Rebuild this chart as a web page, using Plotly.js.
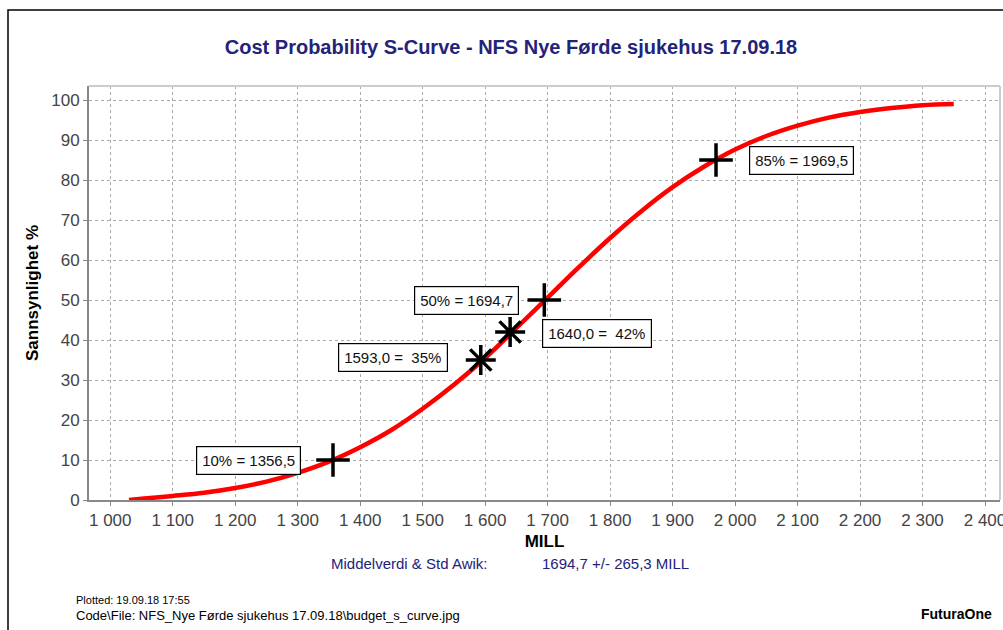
<!DOCTYPE html>
<html>
<head>
<meta charset="utf-8">
<script src="https://cdn.plot.ly/plotly-3.0.1.min.js"></script>
<style>
html,body{margin:0;padding:0;background:#fff;}
#chart{width:1003px;height:630px;}
</style>
</head>
<body>
<div id="chart"></div>
<script>
// S-curve (MILL vs cumulative probability %)
const curveX = [1030,1050,1100,1150,1200,1250,1300,1350,1400,1450,1500,1550,1600,1650,1700,1750,1800,1850,1900,1950,2000,2050,2100,2150,2200,2250,2300,2350];
const curveY = [0,0.3,1.0,1.8,3.0,4.6,6.8,9.6,13.2,17.5,22.8,28.8,35.5,43.0,50.6,58.2,65.5,72.2,78.2,83.3,87.6,91.0,93.6,95.6,97.0,98.0,98.7,99.0];

// Percentile markers (+)
const pctX = [1356.5, 1694.7, 1969.5];
const pctY = [10, 50, 85];
const pctLabels = ["10% = 1356,5", "50% = 1694,7", "85% = 1969,5"];

// Cost markers (*)
const costX = [1593.0, 1640.0];
const costY = [35, 42];
const costLabels = ["1593,0 =  35%", "1640,0 =  42%"];

const xTicks = [1000,1100,1200,1300,1400,1500,1600,1700,1800,1900,2000,2100,2200,2300,2400];
const yTicks = [0,10,20,30,40,50,60,70,80,90,100];

const FONT = 'Arial, Liberation Sans, sans-serif';

const traces = [
  {x: curveX, y: curveY, type: 'scatter', mode: 'lines', line: {color: '#ff0000', width: 4.5, shape: 'spline'}},
  {x: pctX, y: pctY, type: 'scatter', mode: 'markers', marker: {symbol: 'cross-thin-open', size: 24, color: '#000', line: {color: '#000', width: 3.5}}},
  {x: costX, y: costY, type: 'scatter', mode: 'markers', marker: {symbol: 'asterisk-open', size: 25, color: '#000', line: {color: '#000', width: 3.5}}}
];

// label box positions (layout only)
const pctPos = [[1222, 10], [1570, 50], [2106, 84.8]];
const costPos = [[1453, 35.7], [1779, 41.6]];

const ann = [];
function boxAnn(t, p){
  ann.push({x: p[0], y: p[1], xref: 'x', yref: 'y', text: t, showarrow: false,
    font: {family: FONT, size: 15, color: '#111'},
    bordercolor: '#000', borderwidth: 1.2, borderpad: 5, bgcolor: '#fff'});
}
pctLabels.forEach((t,i)=>boxAnn(t, pctPos[i]));
costLabels.forEach((t,i)=>boxAnn(t, costPos[i]));

const navy = '#23237a';
function px(x){ return (x-89)/911; }
function py(y){ return (500-y)/414; }
ann.push({xref:'paper', yref:'paper', x:px(409), y:py(563), text:'Middelverdi & Std Awik:', showarrow:false, xanchor:'center', yanchor:'middle', font:{family:FONT, size:15, color:navy}});
ann.push({xref:'paper', yref:'paper', x:px(615), y:py(563), text:'1694,7 +/- 265,3 MILL', showarrow:false, xanchor:'center', yanchor:'middle', font:{family:FONT, size:15, color:navy}});
ann.push({xref:'paper', yref:'paper', x:px(74), y:py(600), text:'Plotted: 19.09.18 17:55', showarrow:false, xanchor:'left', yanchor:'middle', font:{family:FONT, size:11, color:'#000'}});
ann.push({xref:'paper', yref:'paper', x:px(74), y:py(615), text:'Code\\File: NFS_Nye Førde sjukehus 17.09.18\\budget_s_curve.jpg', showarrow:false, xanchor:'left', yanchor:'middle', font:{family:FONT, size:13, color:'#000'}});
ann.push({xref:'paper', yref:'paper', x:px(994), y:py(614), text:'<b>FuturaOne</b>', showarrow:false, xanchor:'right', yanchor:'middle', font:{family:FONT, size:14, color:'#000'}});

const layout = {
  width: 1003, height: 630,
  margin: {l: 89, r: 3, t: 86, b: 130},
  paper_bgcolor: '#fff', plot_bgcolor: '#fff',
  showlegend: false,
  separators: ', ',
  font: {family: FONT, color: '#333'},
  title: {text: '<b>Cost Probability S-Curve - NFS Nye Førde sjukehus 17.09.18</b>', x: 511/1003, xanchor: 'center', xref: 'container', y: 1 - 47/630, yanchor: 'middle', yref: 'container',
    font: {family: FONT, size: 20, color: navy}},
  xaxis: {range: [966, 2424], tickvals: xTicks, tickformat: ',d', showgrid: true, gridcolor: '#aaa', griddash: 'dot', gridwidth: 1,
    zeroline: false, showline: true, linecolor: '#888', linewidth: 2, ticks: 'outside', ticklen: 4, tickcolor: '#888',
    ticklabeloverflow: 'allow',
    tickfont: {size: 17, color: '#444'},
    title: {text: '<b>MILL</b>', font: {size: 17, color: '#000'}, standoff: 6}},
  yaxis: {range: [0, 103.5], tickvals: yTicks, showgrid: true, gridcolor: '#aaa', griddash: 'dot', gridwidth: 1,
    zeroline: false, showline: true, linecolor: '#888', linewidth: 2, ticks: 'outside', ticklen: 4, tickcolor: '#888',
    tickfont: {size: 17, color: '#444'},
    title: {text: '<b>Sannsynlighet %</b>', font: {size: 17, color: '#000'}, standoff: 8}},
  annotations: ann,
  shapes: [
    {type: 'line', xref: 'paper', yref: 'paper', x0: 0, x1: 1, y0: 1, y1: 1, line: {color: '#ccc', width: 2}},
    {type: 'line', xref: 'paper', yref: 'paper', x0: 1, x1: 1, y0: 0, y1: 1, line: {color: '#ccc', width: 2}},
    {type: 'rect', xref: 'paper', yref: 'paper', x0: px(8), x1: 1.02, y0: -0.33, y1: py(10), line: {color: '#000', width: 1.5}}
  ]
};

Plotly.newPlot('chart', traces, layout, {displayModeBar: false, staticPlot: true});
</script>
</body>
</html>
